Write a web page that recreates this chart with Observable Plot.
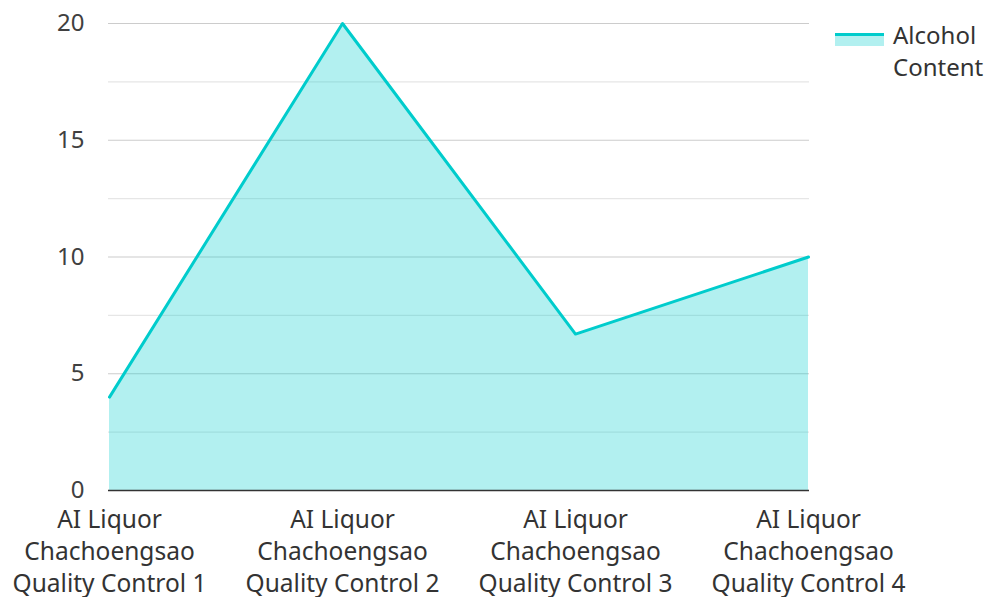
<!DOCTYPE html>
<html>
<head>
<meta charset="utf-8">
<script src="https://cdn.jsdelivr.net/npm/d3@7"></script>
<script src="https://cdn.jsdelivr.net/npm/@observablehq/plot@0.6"></script>
<style>
  html, body { margin: 0; padding: 0; background: #fff; }
  #wrap { position: relative; width: 991px; height: 597px; font-family: "Noto Sans", sans-serif; }
  #legend { position: absolute; left: 835px; top: 19px; display: flex; align-items: flex-start; font-size: 24px; color: #333; line-height: 32px; }
  #legend .sw { width: 49px; height: 13px; margin-top: 14px; margin-right: 9px; background: rgba(0,204,204,0.3); border-top: 3px solid #00cccc; box-sizing: border-box; }
</style>
</head>
<body>
<div id="wrap">
  <div id="chart"></div>
  <div id="legend"><div class="sw"></div><div>Alcohol<br>Content</div></div>
</div>
<script>
const categories = [
  "AI Liquor Chachoengsao Quality Control 1",
  "AI Liquor Chachoengsao Quality Control 2",
  "AI Liquor Chachoengsao Quality Control 3",
  "AI Liquor Chachoengsao Quality Control 4"
];
const tickLabels = [
  "AI Liquor\nChachoengsao\nQuality Control 1",
  "AI Liquor\nChachoengsao\nQuality Control 2",
  "AI Liquor\nChachoengsao\nQuality Control 3",
  "AI Liquor\nChachoengsao\nQuality Control 4"
];
const alcoholContent = [4, 20, 6.7, 10];
const majorTicks = [0, 5, 10, 15, 20];
const minorTicks = [2.5, 7.5, 12.5, 17.5];

const data = categories.map((c, i) => ({category: c, value: alcoholContent[i]}));

const chart = Plot.plot({
  width: 991,
  height: 597,
  marginLeft: 108,
  marginRight: 182,
  marginTop: 23,
  marginBottom: 107,
  style: {fontFamily: "Noto Sans, sans-serif", fontSize: "24.5px", color: "#333", background: "#fff", overflow: "visible"},
  x: {type: "point", domain: categories, padding: 0},
  y: {domain: [0, 20]},
  marks: [
    Plot.ruleY(minorTicks, {stroke: "#e6e6e6", strokeWidth: 1.2}),
    Plot.ruleY(majorTicks.filter(d => d > 0), {stroke: "#cccccc", strokeWidth: 1.2}),
    Plot.areaY(data, {x: "category", y: "value", fill: "#00cccc", fillOpacity: 0.3}),
    Plot.lineY(data, {x: "category", y: "value", stroke: "#00cccc", strokeWidth: 3}),
    Plot.ruleY([0], {stroke: "#333", strokeWidth: 1.5}),
    Plot.axisY({ticks: majorTicks, tickSize: 0, tickPadding: 24, label: null, fontSize: 24, fill: "#404040"}),
    Plot.axisX({
      tickSize: 0, tickPadding: 15, label: null, fontSize: 24.5, fill: "#333",
      lineHeight: 1.306,
      tickFormat: d => tickLabels[categories.indexOf(d)]
    })
  ]
});
document.getElementById("chart").appendChild(chart);
</script>
</body>
</html>
